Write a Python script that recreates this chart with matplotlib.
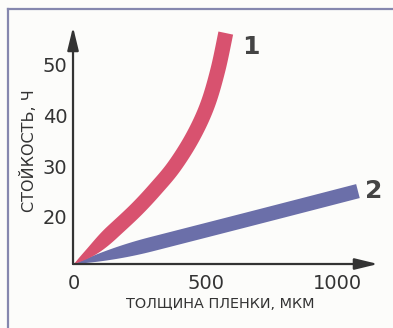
import numpy as np
import matplotlib
matplotlib.use("Agg")
import matplotlib.pyplot as plt
from matplotlib.lines import Line2D
from matplotlib.bezier import BezierSegment

# ---- data ----
curve1_x = [0, 70, 145, 235, 310, 380, 450, 505, 545, 575]
curve1_y = [10.7, 13.4, 17.0, 21.4, 25.6, 30.0, 35.8, 42.0, 49.0, 56.3]
curve2_x = [0, 180, 667, 1076]
curve2_y = [10.7, 13.1, 19.6, 25.1]
x_ticks = [0, 500, 1000]
y_ticks = [20, 30, 40, 50]
curve_labels = ["1", "2"]
label_pos_x = [670, 1136]
label_pos_y = [53.5, 25.1]
x_title = "ТОЛЩИНА ПЛЕНКИ, МКМ"
y_title = "СТОЙКОСТЬ, Ч"

RED = "#d8526f"
BLUE = "#6b6fa9"
INK = "#333333"

fig = plt.figure(figsize=(3.93, 3.28), dpi=100)
fig.patch.set_facecolor("#fcfcfa")
ax = fig.add_axes([0.1858, 0.1951, 0.7760, 0.7226])
ax.set_facecolor("none")
ax.set_xlim(-4, 1152)
ax.set_ylim(10.7, 57.5)
for s in ax.spines.values():
    s.set_visible(False)

ax.set_xticks(x_ticks)
ax.set_yticks(y_ticks)
ax.set_xticklabels([str(v) for v in x_ticks])
ax.set_yticklabels([str(v) for v in y_ticks])
ax.tick_params(axis="both", length=0, colors=INK, labelsize=14)
ax.tick_params(axis="x", pad=7)
ax.tick_params(axis="y", pad=4)


def smooth_display_path(xs, ys, per_seg=30):
    """Catmull-Rom path through the data points, evaluated as Bezier segments."""
    P = ax.transData.transform(np.column_stack([xs, ys]))
    n = len(P)
    out = [P[0]]
    for i in range(n - 1):
        p0 = P[max(i - 1, 0)]
        p1 = P[i]
        p2 = P[i + 1]
        p3 = P[min(i + 2, n - 1)]
        c1 = p1 + (p2 - p0) / 6.0
        c2 = p2 - (p3 - p1) / 6.0
        seg = BezierSegment(np.array([p1, c1, c2, p2]))
        t = np.linspace(0, 1, per_seg + 1)[1:]
        out.extend(seg(t))
    return np.array(out)


def band(xs, ys, hw_px, taper_px, color):
    pts = smooth_display_path(xs, ys)
    d = np.gradient(pts, axis=0)
    tang = d / np.hypot(d[:, 0], d[:, 1])[:, None]
    norm = np.column_stack([-tang[:, 1], tang[:, 0]])
    seglen = np.hypot(*np.diff(pts, axis=0).T)
    s = np.concatenate([[0], np.cumsum(seglen)])
    u = np.clip(s / taper_px, 0, 1)
    hw = hw_px * (1 - (1 - u) ** 2)
    up = pts + norm * hw[:, None]
    lo = pts - norm * hw[:, None]
    poly = np.vstack([up, lo[::-1]])
    data = ax.transData.inverted().transform(poly)
    ax.fill(data[:, 0], data[:, 1], color=color, lw=0, zorder=2)


band(curve2_x, curve2_y, 7.2, 80, BLUE)
band(curve1_x, curve1_y, 7.5, 50, RED)

# axes with arrows
arrow_kw = dict(arrowstyle="-|>,head_length=14,head_width=3.4", color=INK,
                lw=1.6, shrinkA=0, shrinkB=0, mutation_scale=1)
ax.annotate("", xy=(0, 1), xytext=(0, 0), xycoords="axes fraction",
            textcoords="axes fraction", arrowprops=arrow_kw, zorder=3)
ax.annotate("", xy=(1, 0), xytext=(0, 0), xycoords="axes fraction",
            textcoords="axes fraction", arrowprops=arrow_kw, zorder=3)

for lab, lx, ly in zip(curve_labels, label_pos_x, label_pos_y):
    ax.text(lx, ly, lab, fontsize=18, fontweight="bold", color="#444444",
            ha="center", va="center", clip_on=False)

fig.text(28 / 393, 1 - 151 / 328, y_title, rotation=90, fontsize=11.5,
         color=INK, ha="center", va="center")
fig.text(220 / 393, 1 - 304 / 328, x_title, fontsize=10.4, color=INK,
         ha="center", va="center")

# frame
fc = "#8587ae"
fig.add_artist(Line2D([8 / 393, 8 / 393], [0, 1 - 9 / 328],
                      transform=fig.transFigure, color=fc, lw=1.6))
fig.add_artist(Line2D([8 / 393, 1], [1 - 9 / 328, 1 - 9 / 328],
                      transform=fig.transFigure, color=fc, lw=1.6))

fig.savefig("out.png", dpi=100, facecolor=fig.get_facecolor())
